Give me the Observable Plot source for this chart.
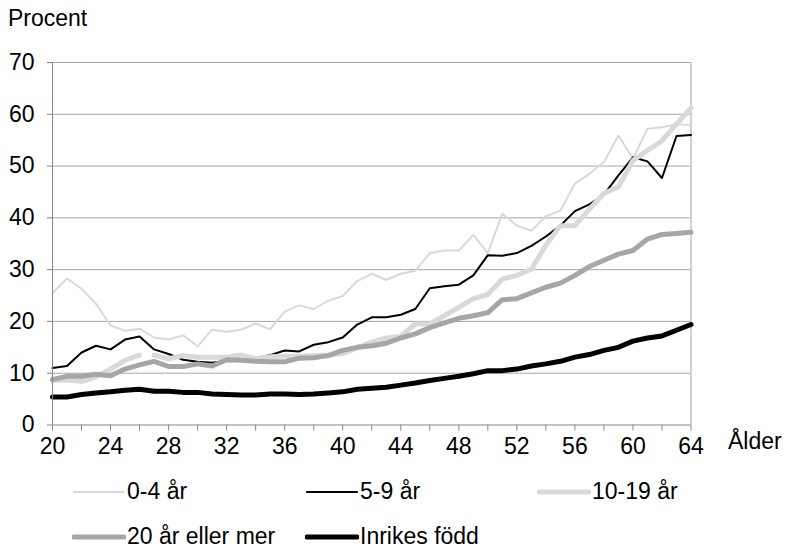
<!DOCTYPE html>
<html>
<head>
<meta charset="utf-8">
<script src="https://cdn.jsdelivr.net/npm/d3@7"></script>
<script src="https://cdn.jsdelivr.net/npm/@observablehq/plot@0.6"></script>
<style>
  html, body { margin: 0; padding: 0; background: #fff; }
  body { width: 786px; height: 548px; position: relative; overflow: hidden;
         font-family: "Liberation Sans", Arial, sans-serif; color: #000; }
  #ylabel { position: absolute; left: 8px; top: 5px; font-size: 23px; }
  #chart { position: absolute; left: 0; top: 40px; }
  .leg { position: absolute; font-size: 23px; display: flex; align-items: center; white-space: nowrap; }
  .leg svg { margin-right: 1px; }
</style>
</head>
<body>
<div id="ylabel">Procent</div>
<div id="chart"></div>
<div id="legend"></div>
<script>
// ---- data ----
const ages = [20,21,22,23,24,25,26,27,28,29,30,31,32,33,34,35,36,37,38,39,40,41,42,43,44,45,46,47,48,49,50,51,52,53,54,55,56,57,58,59,60,61,62,63,64];

const v0_4 = [25.5,28.3,26.3,23.4,19.2,18.2,18.6,16.9,16.5,17.3,15.2,18.4,18.0,18.4,19.6,18.5,21.9,23.1,22.4,24.0,24.9,27.8,29.2,28.0,29.2,29.8,33.2,33.7,33.7,36.7,33.2,40.8,38.5,37.5,40.3,41.4,46.6,48.5,50.8,55.9,51.4,57.2,57.5,58.1,57.9];
const v5_9 = [11.0,11.4,14.0,15.3,14.6,16.5,17.1,14.6,13.7,12.6,12.2,12.0,12.4,12.6,12.9,13.5,14.4,14.2,15.5,16.0,16.9,19.4,20.8,20.8,21.3,22.4,26.4,26.8,27.1,28.9,32.8,32.7,33.2,34.6,36.4,38.5,41.3,42.6,44.5,48.2,51.7,50.9,47.7,55.8,56.0];
const v10_19 = [8.6,8.7,8.4,9.3,10.8,12.5,13.5,13.5,12.8,13.4,13.1,13.1,13.1,13.5,12.8,13.2,13.3,13.3,13.4,13.5,13.8,14.9,16.0,16.8,17.1,19.5,19.5,21.1,22.7,24.4,25.2,28.2,28.9,30.1,34.7,38.5,38.5,41.7,44.7,46.0,51.1,53.0,54.9,58.1,61.2];
const v20plus = [8.8,9.4,9.4,9.8,9.5,10.8,11.6,12.3,11.3,11.3,11.8,11.4,12.6,12.5,12.3,12.2,12.2,12.9,13.0,13.4,14.4,15.0,15.3,15.8,16.8,17.6,18.8,19.7,20.6,21.1,21.7,24.2,24.4,25.5,26.6,27.4,28.9,30.6,31.8,33.0,33.7,35.9,36.8,37.0,37.2];
const vInrikes = [5.4,5.4,5.9,6.2,6.4,6.7,6.9,6.5,6.5,6.3,6.3,6.0,5.9,5.8,5.8,6.0,6.0,5.9,6.0,6.2,6.4,6.9,7.1,7.3,7.7,8.1,8.6,9.0,9.4,9.9,10.5,10.5,10.8,11.4,11.8,12.3,13.1,13.6,14.4,15.0,16.2,16.8,17.2,18.3,19.4];

const seriesNames = ["0-4 år", "5-9 år", "10-19 år", "20 år eller mer", "Inrikes född"];
const seriesValues = [v0_4, v5_9, v10_19, v20plus, vInrikes];
// the 10-19 år line is broken between these two ages in the original
const breakAfter = {"10-19 år": 26};

const xTicks = [20,22,24,26,28,30,32,34,36,38,40,42,44,46,48,50,52,54,56,58,60,62,64];
const xLabelEvery = 4;
const yTicks = [0,10,20,30,40,50,60,70];

// ---- styles ----
const seriesColors = ["#d9d9d9", "#000000", "#d9d9d9", "#a6a6a6", "#000000"];
const seriesWidths = [2, 2, 5, 5, 5];
const fontStack = "'Liberation Sans', Arial, sans-serif";
const fs = 23;

const rows = seriesNames.flatMap((name, i) =>
  ages.map((a, j) => ({
    series: name,
    age: a,
    value: seriesValues[i][j],
    seg: name + (breakAfter[name] !== undefined && a > breakAfter[name] ? "_b" : "")
  }))
);

const lineMarks = seriesNames.map((name, i) =>
  Plot.line(rows.filter(d => d.series === name), {
    x: "age", y: "value", z: "seg",
    stroke: seriesColors[i], strokeWidth: seriesWidths[i],
    strokeLinejoin: "round", strokeLinecap: "round"
  })
);

const gridColor = "#a6a6a6";
const axisColor = "#868686";

const chart = Plot.plot({
  width: 786,
  height: 430,
  marginTop: 22,
  marginBottom: 45.5,
  marginLeft: 52,
  marginRight: 95.5,
  style: { fontFamily: fontStack, fontSize: fs + "px", color: "#000", background: "#fff" },
  x: { domain: [20, 64] },
  y: { domain: [0, 70] },
  marks: [
    Plot.gridY(yTicks.filter(t => t > 0), { stroke: gridColor, strokeOpacity: 1 }),
    Plot.ruleX([64], { stroke: gridColor }),
    ...lineMarks,
    Plot.ruleX([20], { stroke: axisColor }),
    Plot.ruleY([0], { stroke: axisColor }),
    Plot.axisY({ ticks: yTicks, tickSize: 5, tickPadding: 13, stroke: axisColor, label: null, fontSize: fs }),
    Plot.axisX({ ticks: xTicks, tickSize: 6, tickPadding: 7, stroke: axisColor, label: null, fontSize: fs,
                 tickFormat: d => (d - ages[0]) % xLabelEvery === 0 ? String(d) : "" }),
    Plot.text(["Ålder"], { frameAnchor: "bottom-right", textAnchor: "start", lineAnchor: "middle",
                           dx: 37, dy: 17, fontSize: fs })
  ]
});
document.getElementById("chart").appendChild(chart);

// ---- legend ----
const legendPos = [[72, 492], [305, 492], [537, 492], [72, 537], [305, 537]];
const legend = document.getElementById("legend");
seriesNames.forEach((name, i) => {
  const item = document.createElement("div");
  item.className = "leg";
  item.style.left = legendPos[i][0] + "px";
  item.style.top = (legendPos[i][1] - 14) + "px";
  item.innerHTML = `<svg width="54" height="10"><line x1="2" y1="5" x2="52" y2="5" stroke="${seriesColors[i]}" stroke-width="${seriesWidths[i]}" stroke-linecap="round"/></svg><span>${name}</span>`;
  legend.appendChild(item);
});
</script>
</body>
</html>
